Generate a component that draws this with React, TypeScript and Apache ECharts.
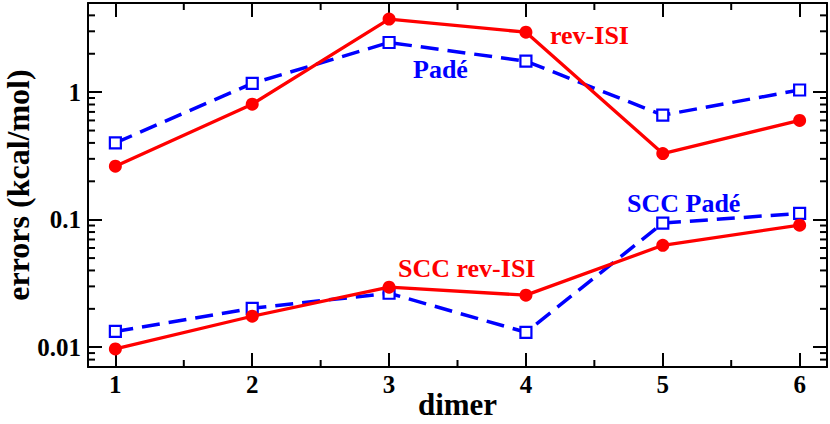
import React, { useEffect, useRef } from "react";
import * as echarts from "echarts";

const dimers = [1, 2, 3, 4, 5, 6];
const revISI = [0.263, 0.805, 3.74, 2.95, 0.33, 0.6];
const pade = [0.4, 1.17, 2.45, 1.75, 0.66, 1.04];
const sccRevISI = [0.0097, 0.0175, 0.0296, 0.0256, 0.063, 0.0906];
const sccPade = [0.0133, 0.0202, 0.0265, 0.0131, 0.094, 0.112];
const yMinorTicks = [
  0.008, 0.009,
  0.02, 0.03, 0.04, 0.05, 0.06, 0.07, 0.08, 0.09,
  0.2, 0.3, 0.4, 0.5, 0.6, 0.7, 0.8, 0.9,
  2, 3, 4,
];
const xMinorTicks = [1.5, 2.5, 3.5, 4.5, 5.5];
const X_MIN = 0.8;
const X_MAX = 6.2;
const Y_MIN = 0.007;
const Y_MAX = 5;

const FONT = '"Liberation Serif", "Times New Roman", serif';
const RED = "#ff0000";
const BLUE = "#0000ff";

export default function App() {
  const ref = useRef<HTMLDivElement>(null);
  useEffect(() => {
    if (!ref.current) return;
    const chart = echarts.init(ref.current, null, { renderer: "svg" });
    const axisLine = { show: true, onZero: false, lineStyle: { color: "#000", width: 2 } };
    const majorTick = { show: true, inside: true, length: 14, lineStyle: { color: "#000", width: 2 } };
    const labelStyle = { fontSize: 25, fontWeight: "bold", fontFamily: FONT, color: "#000" };
    const tickLine = (x1: number, y1: number, x2: number, y2: number) => ({
      type: "line",
      shape: { x1, y1, x2, y2 },
      style: { stroke: "#000", lineWidth: 2 },
    });
    const textEl = (text: string, x: number, y: number, color: string) => ({
      type: "text",
      x,
      y,
      style: {
        text,
        fill: color,
        fontSize: 26,
        fontWeight: "bold",
        fontFamily: FONT,
        verticalAlign: "middle",
        align: "left",
      },
    });
    const lineSeries = (name: string, data: number[], color: string, dashed: boolean) => ({
      type: "line",
      name,
      xAxisIndex: 0,
      yAxisIndex: 0,
      data: dimers.map((d, i) => [d, data[i]]),
      symbol: dashed ? "rect" : "circle",
      symbolSize: dashed ? 11 : 13,
      showSymbol: true,
      lineStyle: { color, width: dashed ? 3.5 : 3.3, type: dashed ? [18, 9] : "solid" },
      itemStyle: dashed
        ? { color: "#fff", borderColor: color, borderWidth: 2.2 }
        : { color, borderColor: color, borderWidth: 0 },
      z: dashed ? 3 : 4,
    });
    chart.setOption({
      animation: false,
      grid: { left: 88, right: 3, top: 3, bottom: 57, outerBoundsMode: "none" },
      xAxis: [
        {
          type: "value",
          position: "bottom",
          min: X_MIN,
          max: X_MAX,
          axisLine,
          axisTick: { ...majorTick, customValues: dimers },
          axisLabel: { ...labelStyle, margin: 5, customValues: dimers },
          splitLine: { show: false },
          name: "dimer",
          nameLocation: "middle",
          nameGap: 22,
          nameMoveOverlap: false,
          nameTextStyle: { fontSize: 31, fontWeight: "bold", fontFamily: FONT, color: "#000" },
        },
        {
          type: "value",
          position: "top",
          min: X_MIN,
          max: X_MAX,
          axisLine,
          axisTick: { ...majorTick, customValues: dimers },
          axisLabel: { show: false },
          splitLine: { show: false },
        },
      ],
      yAxis: [
        {
          type: "log",
          logBase: 10,
          position: "left",
          min: Y_MIN,
          max: Y_MAX,
          axisLine,
          axisTick: majorTick,
          axisLabel: {
            ...labelStyle,
            margin: 7,
            showMinLabel: false,
            showMaxLabel: false,
            formatter: (v: number) => String(parseFloat(Number(v).toPrecision(6))),
          },
          splitLine: { show: false },
          name: "errors (kcal/mol)",
          nameLocation: "middle",
          nameGap: 55,
          nameMoveOverlap: false,
          nameTextStyle: { fontSize: 32, lineHeight: 30, fontWeight: "bold", fontFamily: FONT, color: "#000" },
        },
        {
          type: "log",
          logBase: 10,
          position: "right",
          min: Y_MIN,
          max: Y_MAX,
          axisLine,
          axisTick: majorTick,
          axisLabel: { show: false },
          splitLine: { show: false },
        },
      ],
      series: [
        {
          type: "custom",
          silent: true,
          clip: false,
          xAxisIndex: 0,
          yAxisIndex: 0,
          data: yMinorTicks.map((v) => [X_MIN, v]),
          renderItem: (_p: any, api: any) => {
            const l = api.coord([X_MIN, api.value(1)]);
            const r = api.coord([X_MAX, api.value(1)]);
            return {
              type: "group",
              children: [tickLine(l[0], l[1], l[0] + 7, l[1]), tickLine(r[0] - 7, r[1], r[0], r[1])],
            };
          },
          z: 1,
        },
        {
          type: "custom",
          silent: true,
          clip: false,
          xAxisIndex: 0,
          yAxisIndex: 0,
          data: xMinorTicks.map((v) => [v, Y_MIN]),
          renderItem: (_p: any, api: any) => {
            const b = api.coord([api.value(0), Y_MIN]);
            const t = api.coord([api.value(0), Y_MAX]);
            return {
              type: "group",
              children: [tickLine(b[0], b[1], b[0], b[1] - 7), tickLine(t[0], t[1], t[0], t[1] + 7)],
            };
          },
          z: 1,
        },
        lineSeries("Padé", pade, BLUE, true),
        lineSeries("SCC Padé", sccPade, BLUE, true),
        lineSeries("rev-ISI", revISI, RED, false),
        lineSeries("SCC rev-ISI", sccRevISI, RED, false),
      ],
      graphic: [
        textEl("rev-ISI", 550, 35, RED),
        textEl("Padé", 413, 69, BLUE),
        textEl("SCC Padé", 627, 203, BLUE),
        textEl("SCC rev-ISI", 398, 268, RED),
      ],
    });
    return () => chart.dispose();
  }, []);
  return (
    <div
      ref={ref}
      style={{ position: "fixed", left: 0, top: 0, width: 830, height: 424, background: "#fff" }}
    />
  );
}
